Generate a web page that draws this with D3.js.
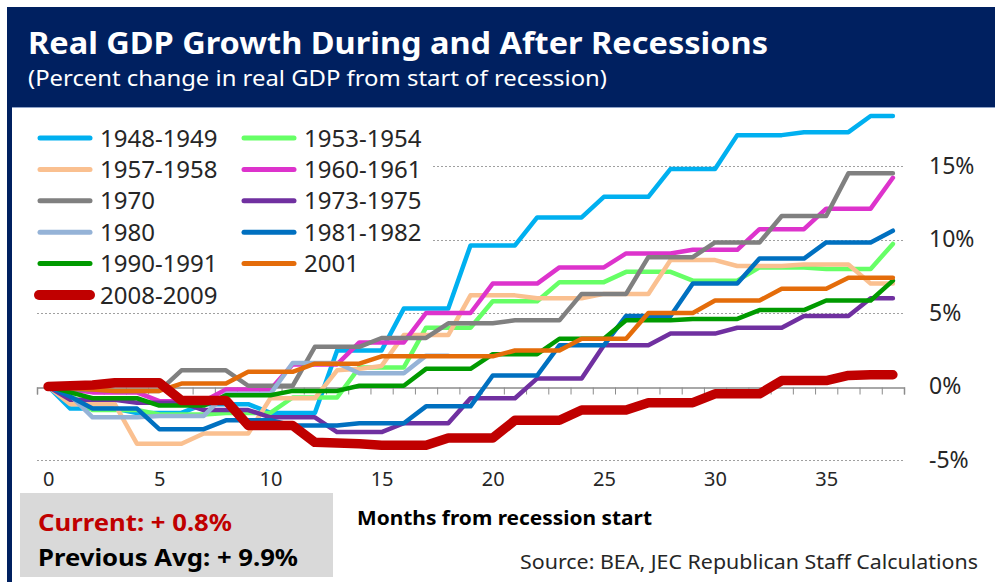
<!DOCTYPE html>
<html>
<head>
<meta charset="utf-8">
<script src="https://cdn.jsdelivr.net/npm/d3@7"></script>
<style>
  body { margin: 0; background: #fff; }
  svg { display: block; font-family: "Noto Sans", "DejaVu Sans", sans-serif; }
</style>
</head>
<body>
<div id="chart"></div>
<script>
// months from recession start
var months = d3.range(0, 39);

var names = ["1948-1949", "1953-1954", "1957-1958", "1960-1961", "1970", "1973-1975",
             "1980", "1981-1982", "1990-1991", "2001", "2008-2009"];
var colors = ["#00B0F0", "#66FF66", "#FAC090", "#DD33CC", "#808080", "#7030A0",
              "#95B3D7", "#0070C0", "#009A00", "#E46C0A", "#C00000"];

// percent change in real GDP, one value per month
var s1948 = [0, -1.5,-1.5,-1.5, -1.8,-1.8,-1.8, -1.2,-1.2,-1.2, -1.8,-1.8,-1.8, 2.45,2.45,2.45,
  5.3,5.3,5.3, 9.6,9.6,9.6, 11.5,11.5,11.5, 12.9,12.9,12.9, 14.8,14.8,14.8, 17.1,17.1,17.1,
  17.3,17.3,17.3, 18.4,18.4];
var s1953 = [0, -0.6, -1.6,-1.6,-1.6, -1.9,-1.9,-1.9, -1.8,-1.8,-1.8, -0.75,-0.75,-0.75,
  1.3,1.3,1.3, 4.0,4.0,4.0, 5.8,5.8,5.8, 7.1,7.1,7.1, 7.8,7.8,7.8, 7.2,7.2,7.2, 8.1,8.1,8.1,
  8.0,8.0,8.0, 9.7];
var s1957 = [0, -1.2,-1.2,-1.2, -3.9,-3.9,-3.9, -3.2,-3.2,-3.2, -0.8,-0.8,-0.8, 1.1,1.2,1.4,
  3.5,3.5,3.5, 6.2,6.2,6.2, 6.0,6.0,6.0, 6.3,6.3,6.3, 8.6,8.6,8.6, 8.2,8.2,8.2, 8.3,8.3,8.3,
  7.0,7.0];
var s1960 = [0, -0.2, -0.4,-0.4,-0.4, -1.0,-1.0,-1.0, -0.2,-0.2,-0.2, 1.5,1.5,1.5, 3.0,3.0,3.0,
  5.0,5.0,5.0, 7.0,7.0,7.0, 8.1,8.1,8.1, 9.05,9.05,9.05, 9.3,9.3,9.3, 10.7,10.7,10.7,
  12.1,12.1,12.1, 14.2];
var s1970 = [0,-0.2,-0.2, -0.3,-0.3,-0.3, 1.1,1.1,1.1, 0.05,0.05,0.05, 2.7,2.7,2.7, 3.3,3.3,3.3,
  4.3,4.3,4.3, 4.5,4.5,4.5, 6.3,6.3,6.3, 8.8,8.8,8.8, 9.8,9.8,9.8, 11.6,11.6,11.6, 14.5,14.5,14.5];
var s1973 = [0, -0.9,-0.9,-0.9, -1.1,-1.1,-1.1, -1.6,-1.6,-1.6, -2.1,-2.1,-2.1, -3.1,-3.1,-3.1,
  -2.5,-2.5,-2.5, -0.8,-0.8,-0.8, 0.55,0.55,0.55, 2.8,2.8,2.8, 3.6,3.6,3.6, 4.0,4.0,4.0,
  4.8,4.8,4.8, 6.0,6.0];
var s1980 = [0, -0.6, -2.1,-2.1,-2.1, -2.0,-2.0,-2.0, -0.5,-0.5,-0.5, 1.6,1.6,1.6, 0.9,0.9,0.9,
  2.1,2.1];
var s1981 = [0, -0.7, -1.5,-1.5,-1.5, -2.9,-2.9,-2.9, -2.3,-2.3,-2.3, -2.65,-2.65,-2.65,
  -2.5,-2.5,-2.5, -1.35,-1.35,-1.35, 0.75,0.75,0.75, 2.8,2.8,2.8, 4.8,4.8,4.8, 7.0,7.0,7.0,
  8.7,8.7,8.7, 9.8,9.8,9.8, 10.6];
var s1990 = [0, -0.4, -0.8,-0.8,-0.8, -1.3,-1.3,-1.3, -0.6,-0.6,-0.6, -0.3,-0.3,-0.3,
  0.05,0.05,0.05, 1.2,1.2,1.2, 2.2,2.2,2.2, 3.25,3.25,3.25, 4.5,4.5,4.5, 4.6,4.6,4.6,
  5.2,5.2,5.2, 5.85,5.85,5.85, 7.2];
var s2001 = [0,-0.1,-0.2, -0.3,-0.3,-0.3, 0.2,0.2,0.2, 1.0,1.0,1.0, 1.55,1.55,1.55, 2.05,2.05,2.05,
  2.05,2.05,2.05, 2.45,2.45,2.45, 3.25,3.25,3.25, 5.0,5.0,5.0, 5.85,5.85,5.85, 6.65,6.65,6.65,
  7.4,7.4,7.4];
var s2008 = [0, 0.05, 0.1, 0.25,0.25,0.25, -0.95,-0.95,-0.95, -2.65,-2.65,-2.65, -3.8,-3.85,-3.9,
  -4.0,-4.0,-4.0, -3.5,-3.5,-3.5, -2.3,-2.3,-2.3, -1.6,-1.6,-1.6, -1.1,-1.1,-1.1,
  -0.5,-0.5,-0.5, 0.4,0.4,0.4, 0.75,0.8,0.8];

var seriesValues = [s1948, s1953, s1957, s1960, s1970, s1973, s1980, s1981, s1990, s2001, s2008];

var yTicks = [-5, 0, 5, 10, 15];
var xLabels = [0, 5, 10, 15, 20, 25, 30, 35];

var svgWidth = 995, svgHeight = 582;

var svg = d3.select("#chart").append("svg")
    .attr("width", svgWidth)
    .attr("height", svgHeight);

// navy frame and header
svg.append("rect").attr("x", 7).attr("y", 7).attr("width", svgWidth - 7).attr("height", svgHeight)
    .attr("fill", "#002060");
svg.append("rect").attr("x", 12).attr("y", 107).attr("width", svgWidth - 12).attr("height", svgHeight)
    .attr("fill", "#fff");
svg.append("line").attr("x1", 12).attr("x2", svgWidth).attr("y1", 107.5).attr("y2", 107.5)
    .attr("stroke", "#8EA2C8").attr("stroke-width", 1);

svg.append("text").attr("x", 28).attr("y", 54)
    .attr("fill", "#fff").attr("font-size", 31).attr("font-weight", "bold")
    .attr("textLength", 740).attr("lengthAdjust", "spacingAndGlyphs")
    .text("Real GDP Growth During and After Recessions");
svg.append("text").attr("x", 28).attr("y", 86)
    .attr("fill", "#fff").attr("font-size", 21)
    .attr("textLength", 579).attr("lengthAdjust", "spacingAndGlyphs")
    .text("(Percent change in real GDP from start of recession)");

// scales
var x = d3.scaleLinear().domain([-0.5, 38.5]).range([37, 904]);
var y = d3.scaleLinear().domain([-5, 15]).range([460, 166]);

// gridlines
var grid = svg.append("g");
grid.selectAll("line")
    .data(yTicks.filter(d => d !== 0))
    .enter().append("line")
    .attr("x1", x(-0.5)).attr("x2", x(38.5))
    .attr("y1", d => Math.round(y(d)) + 0.5).attr("y2", d => Math.round(y(d)) + 0.5)
    .attr("stroke", "#A0A0A0").attr("stroke-width", 1).attr("stroke-dasharray", "2,2");

// x axis with a tick between every month
var xAxisG = svg.append("g")
    .attr("transform", `translate(0, ${Math.round(y(0)) + 0.5})`)
    .call(d3.axisBottom(x).tickValues(d3.range(-0.5, 39, 1)).tickSize(7).tickFormat(""));
xAxisG.select(".domain").attr("stroke", "#8C8C8C").attr("stroke-width", 1.5);
xAxisG.selectAll(".tick line").attr("stroke", "#8C8C8C");

var xLabelG = svg.append("g")
    .attr("transform", "translate(0, 469)")
    .call(d3.axisBottom(x).tickValues(xLabels).tickSize(0).tickFormat(d3.format("d")));
xLabelG.select(".domain").remove();
xLabelG.selectAll("text").attr("font-size", 20).attr("fill", "#262626")
    .attr("font-family", "Noto Sans");

// y labels on the right
var yAxisG = svg.append("g")
    .attr("transform", "translate(929, 0)")
    .call(d3.axisRight(y).tickValues(yTicks).tickSize(0).tickPadding(0).tickFormat(d => d + "%"));
yAxisG.select(".domain").remove();
yAxisG.selectAll("text").attr("font-size", 23).attr("fill", "#262626")
    .attr("font-family", "Noto Sans");

// legend box covers the gridlines on the left
svg.append("rect").attr("x", 20).attr("y", 116).attr("width", 413).attr("height", 192)
    .attr("fill", "#fff");

// lines
var line = d3.line()
    .x((d, i) => x(i))
    .y(d => y(d));

var lineGroup = svg.append("g");
lineGroup.selectAll("path")
    .data(seriesValues)
    .enter().append("path")
    .attr("d", d => line(d))
    .attr("fill", "none")
    .attr("stroke", (d, i) => colors[i])
    .attr("stroke-width", (d, i) => i === 10 ? 9.5 : 4.5)
    .attr("stroke-linejoin", "round")
    .attr("stroke-linecap", "round");

// legend
var legend = svg.append("g");
var legendItems = legend.selectAll("g")
    .data(names)
    .enter().append("g")
    .attr("transform", (d, i) => `translate(${i % 2 === 0 ? 37 : 241}, ${138 + Math.floor(i / 2) * 31.4})`);
legendItems.append("line")
    .attr("x1", (d, i) => i === 10 ? 2 : 3).attr("x2", (d, i) => i === 10 ? 53 : 53)
    .attr("y1", 0).attr("y2", 0)
    .attr("stroke", (d, i) => colors[i])
    .attr("stroke-width", (d, i) => i === 10 ? 10 : 5)
    .attr("stroke-linecap", "round");
legendItems.append("text")
    .attr("x", 63).attr("y", 0).attr("dy", "0.36em")
    .attr("font-size", 24).attr("fill", "#262626")
    .text(d => d);

// summary box
svg.append("rect").attr("x", 20).attr("y", 493).attr("width", 313).attr("height", 84)
    .attr("fill", "#D9D9D9");
svg.append("text").attr("x", 38).attr("y", 531)
    .attr("font-size", 23).attr("font-weight", "bold").attr("fill", "#C00000")
    .attr("textLength", 194).attr("lengthAdjust", "spacingAndGlyphs")
    .text("Current: + 0.8%");
svg.append("text").attr("x", 38).attr("y", 566)
    .attr("font-size", 23).attr("font-weight", "bold").attr("fill", "#000")
    .attr("textLength", 260).attr("lengthAdjust", "spacingAndGlyphs")
    .text("Previous Avg: + 9.9%");

svg.append("text").attr("x", 357).attr("y", 525)
    .attr("font-size", 19).attr("font-weight", "bold").attr("fill", "#000")
    .attr("textLength", 295).attr("lengthAdjust", "spacingAndGlyphs")
    .text("Months from recession start");

svg.append("text").attr("x", 520).attr("y", 569)
    .attr("font-size", 20).attr("fill", "#262626")
    .attr("textLength", 458).attr("lengthAdjust", "spacingAndGlyphs")
    .text("Source: BEA, JEC Republican Staff Calculations");
</script>
</body>
</html>
